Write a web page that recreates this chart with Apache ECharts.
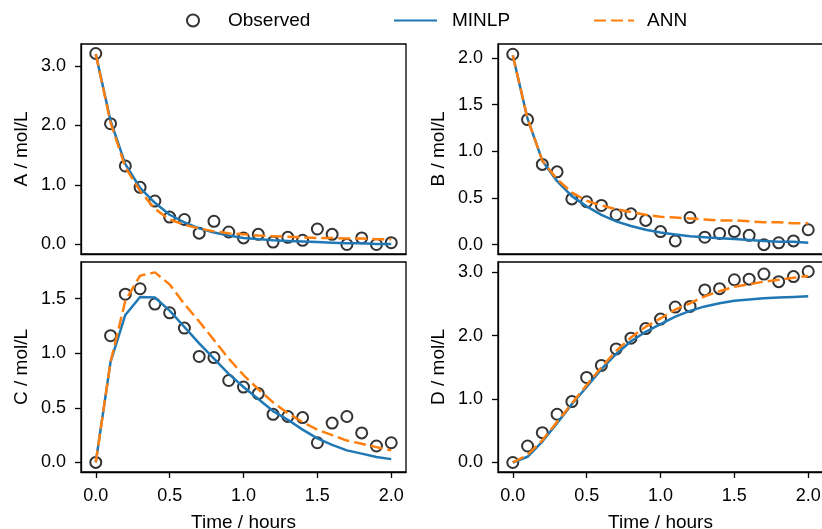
<!DOCTYPE html>
<html>
<head>
<meta charset="utf-8">
<script src="https://cdn.jsdelivr.net/npm/echarts@6/dist/echarts.min.js"></script>
<style>
html, body { margin: 0; background: #fff; }
#main { width: 822px; height: 529px; }
</style>
</head>
<body>
<div id="main"></div>
<script>
var myChart = echarts.init(document.getElementById('main'));

// time points (hours)
var time = [0.0, 0.1, 0.2, 0.3, 0.4, 0.5, 0.6, 0.7, 0.8, 0.9, 1.0,
            1.1, 1.2, 1.3, 1.4, 1.5, 1.6, 1.7, 1.8, 1.9, 2.0];

// observed concentrations
var obsA = [3.21, 2.03, 1.32, 0.96, 0.73, 0.46, 0.42, 0.19, 0.39, 0.21, 0.11,
            0.17, 0.04, 0.12, 0.07, 0.26, 0.17, 0.00, 0.11, 0.00, 0.03];
var obsB = [2.04, 1.34, 0.86, 0.78, 0.49, 0.46, 0.42, 0.32, 0.33, 0.26, 0.14,
            0.04, 0.29, 0.08, 0.12, 0.14, 0.10, 0.00, 0.02, 0.04, 0.16];
var obsC = [0.00, 1.16, 1.54, 1.59, 1.45, 1.37, 1.23, 0.97, 0.96, 0.75, 0.69,
            0.63, 0.44, 0.42, 0.41, 0.18, 0.36, 0.42, 0.27, 0.15, 0.18];
var obsD = [0.00, 0.26, 0.47, 0.76, 0.96, 1.34, 1.53, 1.79, 1.96, 2.11, 2.26,
            2.45, 2.46, 2.72, 2.74, 2.88, 2.89, 2.97, 2.85, 2.93, 3.01];

// MINLP model
var minlpA = [3.20, 2.08, 1.35, 0.95, 0.70, 0.50, 0.37, 0.27, 0.20, 0.15, 0.11,
              0.09, 0.07, 0.06, 0.05, 0.04, 0.03, 0.02, 0.02, 0.01, 0.01];
var minlpB = [2.03, 1.35, 0.90, 0.68, 0.52, 0.41, 0.32, 0.25, 0.20, 0.16, 0.13,
              0.11, 0.09, 0.08, 0.07, 0.06, 0.05, 0.04, 0.03, 0.03, 0.02];
var minlpC = [0.00, 0.92, 1.35, 1.515, 1.51, 1.39, 1.24, 1.09, 0.95, 0.81, 0.69,
              0.58, 0.47, 0.39, 0.30, 0.22, 0.16, 0.11, 0.08, 0.05, 0.03];
var minlpD = [0.00, 0.09, 0.33, 0.62, 0.92, 1.19, 1.47, 1.71, 1.91, 2.06, 2.18,
              2.30, 2.39, 2.46, 2.51, 2.55, 2.57, 2.59, 2.60, 2.61, 2.62];

// ANN model
var annA = [3.20, 2.05, 1.30, 0.90, 0.60, 0.42, 0.33, 0.27, 0.22, 0.19, 0.17,
            0.15, 0.14, 0.13, 0.12, 0.11, 0.11, 0.10, 0.10, 0.09, 0.09];
var annB = [2.03, 1.35, 0.90, 0.70, 0.56, 0.47, 0.42, 0.38, 0.35, 0.32, 0.30,
            0.29, 0.28, 0.27, 0.26, 0.26, 0.25, 0.24, 0.24, 0.23, 0.23];
var annC = [0.00, 0.92, 1.48, 1.71, 1.74, 1.63, 1.45, 1.29, 1.12, 0.95, 0.80,
            0.67, 0.55, 0.45, 0.37, 0.30, 0.25, 0.20, 0.17, 0.14, 0.11];
var annD = [0.00, 0.12, 0.35, 0.64, 0.93, 1.22, 1.50, 1.76, 1.97, 2.14, 2.27,
            2.41, 2.51, 2.62, 2.70, 2.77, 2.81, 2.85, 2.88, 2.91, 2.94];

// tick labels
var xTicks = [0, 0.5, 1.0, 1.5, 2.0];
var yTicksA = [0, 1, 2, 3];
var yTicksB = [0, 0.5, 1.0, 1.5, 2.0];
var yTicksC = [0, 0.5, 1.0, 1.5];
var yTicksD = [0, 1, 2, 3];

var yNames = ['A / mol/L', 'B / mol/L', 'C / mol/L', 'D / mol/L'];
var yRanges = [[-0.16, 3.37], [-0.10, 2.15], [-0.088, 1.835], [-0.15, 3.16]];
var yTicks = [yTicksA, yTicksB, yTicksC, yTicksD];
var obs = [obsA, obsB, obsC, obsD];
var minlp = [minlpA, minlpB, minlpC, minlpD];
var ann = [annA, annB, annC, annD];

var FONT = 'Liberation Sans, Arial, sans-serif';
var BLUE = '#1f77b4';
var ORANGE = '#ff7f0e';

function pairs(values) {
    return time.map(function (t, i) { return [t, values[i]]; });
}

var grids = [
    { left: 81, top: 44, width: 325, height: 210 },
    { left: 498, top: 44, width: 325, height: 210 },
    { left: 81, top: 262, width: 325, height: 210 },
    { left: 498, top: 262, width: 325, height: 210 }
].map(function (g) {
    g.show = true;
    g.outerBoundsMode = 'none';
    g.containLabel = false;
    g.borderColor = '#000';
    g.borderWidth = 1.3;
    g.backgroundColor = 'transparent';
    return g;
});

var axisLineStyle = { color: '#000', width: 1.3 };

var xAxes = [], yAxes = [], series = [];
for (var i = 0; i < 4; i++) {
    var bottom = i >= 2;
    xAxes.push({
        type: 'value', gridIndex: i, min: -0.1, max: 2.1,
        name: bottom ? 'Time / hours' : '',
        nameLocation: 'middle', nameGap: 41,
        nameTextStyle: { fontFamily: FONT, fontSize: 19, color: '#000' },
        axisLine: { show: true, onZero: false, lineStyle: axisLineStyle },
        axisTick: { show: bottom, customValues: xTicks, length: 6, lineStyle: axisLineStyle },
        axisLabel: {
            show: bottom, customValues: xTicks, margin: 15,
            fontFamily: FONT, fontSize: 18, color: '#000',
            formatter: function (v) { return v.toFixed(1); }
        },
        splitLine: { show: false }
    });
    yAxes.push({
        type: 'value', gridIndex: i, min: yRanges[i][0], max: yRanges[i][1],
        name: yNames[i], nameLocation: 'middle', nameGap: 50,
        nameTextStyle: { fontFamily: FONT, fontSize: 19, color: '#000' },
        axisLine: { show: true, onZero: false, lineStyle: axisLineStyle },
        axisTick: { show: true, customValues: yTicks[i], length: 6, lineStyle: axisLineStyle },
        axisLabel: {
            customValues: yTicks[i], margin: 15,
            fontFamily: FONT, fontSize: 18, color: '#000',
            formatter: function (v) { return v.toFixed(1); }
        },
        splitLine: { show: false }
    });
    series.push({
        name: 'Observed', type: 'scatter', xAxisIndex: i, yAxisIndex: i,
        symbol: 'circle', symbolSize: 11,
        itemStyle: { color: 'rgba(255,255,255,0)', borderColor: '#000', borderWidth: 2 },
        data: pairs(obs[i])
    });
    series.push({
        name: 'MINLP', type: 'line', xAxisIndex: i, yAxisIndex: i,
        symbol: 'none', smooth: false,
        lineStyle: { color: BLUE, width: 2.5 },
        itemStyle: { color: BLUE },
        data: pairs(minlp[i])
    });
    series.push({
        name: 'ANN', type: 'line', xAxisIndex: i, yAxisIndex: i,
        symbol: 'none', smooth: false,
        lineStyle: { color: ORANGE, width: 2.5, type: [12, 5] },
        itemStyle: { color: ORANGE },
        data: pairs(ann[i])
    });
}

var legendText = { fontFamily: FONT, fontSize: 19, color: '#000' };
var option = {
    animation: false,
    backgroundColor: '#fff',
    legend: [
        { data: ['Observed'], left: 186, top: 11, padding: 0, itemWidth: 12, itemHeight: 12,
          textStyle: Object.assign({ padding: [0, 0, 0, 24] }, legendText) },
        { data: [{ name: 'MINLP', itemStyle: { opacity: 0 } }], left: 393, top: 11, padding: 0,
          itemWidth: 43, itemHeight: 12,
          textStyle: Object.assign({ padding: [0, 0, 0, 10] }, legendText) },
        { data: [{ name: 'ANN', itemStyle: { opacity: 0 } }], left: 593, top: 11, padding: 0,
          itemWidth: 40, itemHeight: 12,
          textStyle: Object.assign({ padding: [0, 0, 0, 8] }, legendText) }
    ],
    grid: grids,
    xAxis: xAxes,
    yAxis: yAxes,
    series: series
};

option && myChart.setOption(option);
</script>
</body>
</html>
